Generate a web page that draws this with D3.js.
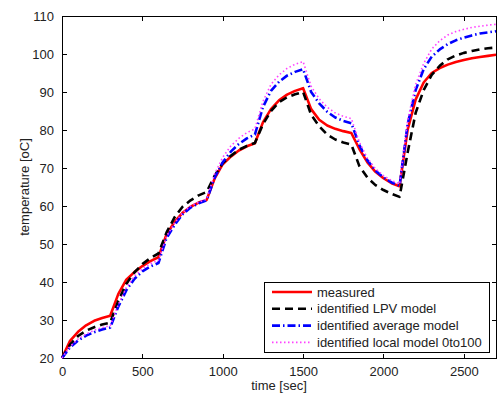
<HTML>
    <head>
        <!-- Importing D3.js for data visualization -->
        <script src="https://d3js.org/d3.v7.min.js"></script>
        <style>
            html, body {
                margin: 0;
                padding: 0;
                background: white;
            }
            svg {
                display: block;
                font-family: "Liberation Sans", Arial, sans-serif;
            }
            .axis path,
            .axis line {
                fill: none;
                stroke: black;
                shape-rendering: crispEdges;
            }
            .axis text {
                font-size: 13px;
                fill: #222;
            }
        </style>
    </head>
    <body>
        <script>
            // time samples [sec]
            const time = [0, 50, 100, 150, 200, 250, 300, 350, 400, 450, 500, 550, 600,
                650, 700, 750, 800, 850, 900, 950, 1000, 1050, 1100, 1150, 1200,
                1250, 1300, 1350, 1400, 1450, 1500, 1550, 1600, 1650, 1700, 1750, 1800,
                1850, 1900, 1950, 2000, 2050, 2100, 2150, 2200, 2250, 2300, 2350, 2400,
                2450, 2500, 2550, 2600, 2650, 2700];

            const measured = [20, 24.5, 26.9, 28.6, 29.8, 30.5, 31.1, 36.8, 40.6, 42.6, 44.2, 45.5, 46.5,
                52.5, 55.8, 58.2, 59.8, 60.9, 61.6, 67.3, 71, 73, 74.6, 75.7, 76.5,
                82, 85.5, 87.8, 89.3, 90.3, 91, 85.5, 82.7, 81.2, 80.3, 79.7, 79.2,
                75, 71.5, 69, 67.3, 66, 65.2, 80, 88, 92.5, 95, 96.3, 97.2,
                97.9, 98.4, 98.9, 99.2, 99.5, 99.8];

            const lpvModel = [20, 23.5, 25.8, 27.2, 28.1, 28.8, 29.3, 35, 39.5, 42.5, 44.7, 46.3, 47.5,
                53, 57, 59.8, 61.5, 62.8, 63.7, 68, 71.3, 73.2, 74.8, 75.8, 76.6,
                81.5, 85, 87.3, 88.6, 89.4, 90, 84, 81, 78.8, 77.5, 76.7, 76.2,
                70.5, 67.5, 65.5, 64.2, 63.2, 62.4, 74, 84.5, 90.5, 94.5, 96.9, 98.6,
                99.6, 100.3, 100.8, 101.2, 101.5, 101.7];

            const averageModel = [20, 22.8, 24.6, 25.9, 26.8, 27.5, 28, 33.5, 37.8, 40.8, 42.8, 44.1, 45,
                51.5, 55, 57.8, 59.6, 60.7, 61.5, 67.5, 71.5, 74.3, 76.3, 77.8, 78.8,
                86, 90.3, 92.7, 94.3, 95.3, 96, 90, 87, 84.8, 83.3, 82.4, 81.8,
                76, 72, 69.3, 67.5, 66.2, 65.3, 81.5, 90.5, 96, 99.3, 101.2, 102.6,
                103.6, 104.3, 104.9, 105.4, 105.7, 106];

            const localModel = [20, 23, 25, 26.3, 27.3, 28, 28.5, 34, 38.5, 41.5, 43.5, 44.8, 45.7,
                52, 55.5, 58.2, 60, 61, 61.8, 68.5, 72.8, 75.8, 77.8, 79.3, 80.3,
                87.5, 92, 94.5, 96.2, 97.3, 98, 91.5, 88.2, 86, 84.5, 83.6, 83,
                76.8, 72.6, 69.8, 68, 66.7, 65.8, 82.5, 92, 97.5, 101.3, 103.5, 105,
                105.9, 106.5, 107, 107.3, 107.6, 107.8];

            const seriesNames = ["measured", "identified LPV model", "identified average model", "identified local model 0to100"];
            const xTicks = [0, 500, 1000, 1500, 2000, 2500];
            const yTicks = [20, 30, 40, 50, 60, 70, 80, 90, 100, 110];

            // line styles for each series
            const styles = [
                {color: "#ff0000", width: 2.6, dash: null},
                {color: "#000000", width: 2.6, dash: "8,5"},
                {color: "#0000ff", width: 2.6, dash: "8,3,1.5,3"},
                {color: "#ff40ff", width: 1.6, dash: "1.5,2.5"}
            ];
            const allSeries = [measured, lpvModel, averageModel, localModel];

            const W = 497, H = 394;
            const margin = {left: 62, right: 496, top: 16, bottom: 358};

            const svg = d3.select("body")
                .append("svg")
                .attr("width", W)
                .attr("height", H);

            svg.append("rect")
                .attr("width", W).attr("height", H)
                .attr("fill", "white");

            const xScale = d3.scaleLinear().domain([0, 2700]).range([margin.left, margin.right]);
            const yScale = d3.scaleLinear().domain([20, 110]).range([margin.bottom, margin.top]);

            // axes (ticks inside, box on all four sides)
            svg.append("g")
                .attr("class", "axis")
                .attr("transform", `translate(0,${margin.bottom})`)
                .call(d3.axisBottom(xScale).tickValues(xTicks).tickFormat(d3.format("d"))
                    .tickSizeInner(-4.5).tickSizeOuter(0).tickPadding(9));
            svg.append("g")
                .attr("class", "axis")
                .attr("transform", `translate(0,${margin.top})`)
                .call(d3.axisTop(xScale).tickValues(xTicks).tickSizeInner(-4.5).tickSizeOuter(0).tickFormat(""));
            svg.append("g")
                .attr("class", "axis")
                .attr("transform", `translate(${margin.left},0)`)
                .call(d3.axisLeft(yScale).tickValues(yTicks).tickFormat(d3.format("d"))
                    .tickSizeInner(-4.5).tickSizeOuter(0).tickPadding(8));
            svg.append("g")
                .attr("class", "axis")
                .attr("transform", `translate(${margin.right},0)`)
                .call(d3.axisRight(yScale).tickValues(yTicks).tickSizeInner(-4.5).tickSizeOuter(0).tickFormat(""));

            svg.selectAll(".axis .domain").remove();
            svg.append("rect")
                .attr("x", margin.left).attr("y", margin.top)
                .attr("width", margin.right - margin.left).attr("height", margin.bottom - margin.top)
                .attr("fill", "none")
                .attr("stroke", "black")
                .attr("shape-rendering", "crispEdges");

            // data lines
            const lineGenerator = d3.line()
                .x((d, i) => xScale(time[i]))
                .y(d => yScale(d));

            allSeries.forEach((s, k) => {
                svg.append("path")
                    .datum(s)
                    .attr("fill", "none")
                    .attr("stroke", styles[k].color)
                    .attr("stroke-width", styles[k].width)
                    .attr("stroke-dasharray", styles[k].dash)
                    .attr("stroke-linejoin", "round")
                    .attr("d", lineGenerator);
            });

            // axis labels
            svg.append("text")
                .attr("x", (margin.left + margin.right) / 2)
                .attr("y", 390)
                .attr("text-anchor", "middle")
                .style("font-size", "13px")
                .attr("fill", "#222")
                .text("time [sec]");

            svg.append("text")
                .attr("transform", `translate(29,${(margin.top + margin.bottom) / 2}) rotate(-90)`)
                .attr("text-anchor", "middle")
                .style("font-size", "13px")
                .attr("fill", "#222")
                .text("temperature [oC]");

            // legend
            const legend = svg.append("g");
            legend.append("rect")
                .attr("x", 264).attr("y", 282)
                .attr("width", 225).attr("height", 70)
                .attr("fill", "white")
                .attr("stroke", "black")
                .attr("shape-rendering", "crispEdges");

            seriesNames.forEach((name, k) => {
                const yRow = 292 + k * 16.8;
                legend.append("line")
                    .attr("x1", 272).attr("x2", 312)
                    .attr("y1", yRow).attr("y2", yRow)
                    .attr("stroke", styles[k].color)
                    .attr("stroke-width", styles[k].width)
                    .attr("stroke-dasharray", styles[k].dash);
                legend.append("text")
                    .attr("x", 317)
                    .attr("y", yRow + 4.5)
                    .style("font-size", "13px")
                    .attr("fill", "#222")
                    .text(name);
            });
        </script>
    </body>
</HTML>
